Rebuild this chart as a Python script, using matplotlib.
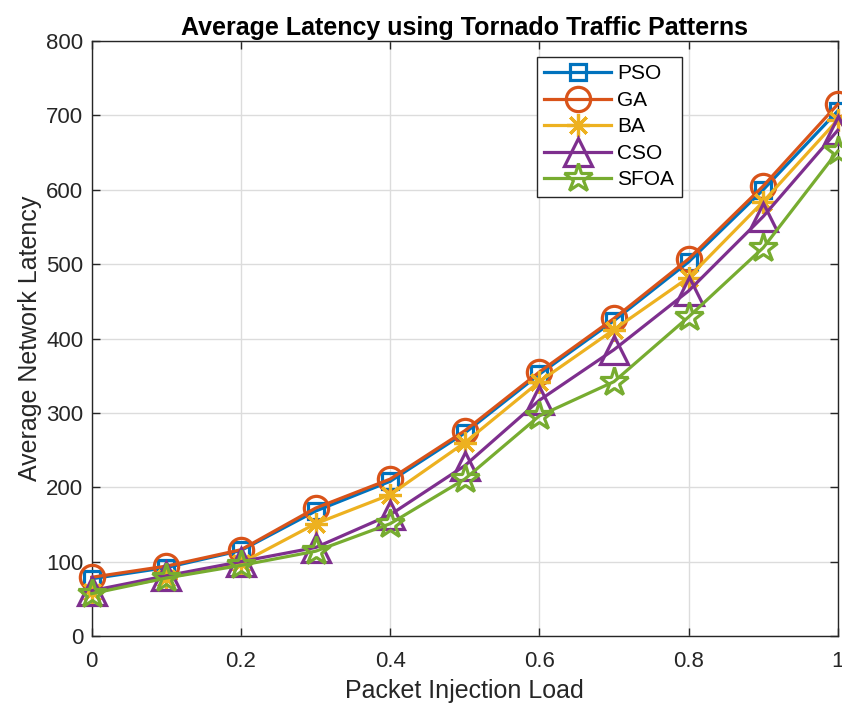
import matplotlib
matplotlib.use("Agg")
import matplotlib.pyplot as plt
from matplotlib import font_manager

load = [0, 0.1, 0.2, 0.3, 0.4, 0.5, 0.6, 0.7, 0.8, 0.9, 1.0]
pso = [77, 92, 115, 168, 208, 273, 352, 424, 503, 600, 706]
ga = [79, 94, 116, 172, 211, 276, 355, 427, 507, 605, 715]
ba = [59, 78, 98, 151, 190, 260, 342, 412, 482, 584, 694]
cso = [61, 81, 100, 119, 163, 229, 317, 385, 464, 564, 680]
sfoa = [57, 78, 95, 114, 151, 211, 296, 342, 429, 522, 652]

series_names = ["PSO", "GA", "BA", "CSO", "SFOA"]
xticks = [0, 0.2, 0.4, 0.6, 0.8, 1.0]
xticklabels = ["0", "0.2", "0.4", "0.6", "0.8", "1"]
yticks = [0, 100, 200, 300, 400, 500, 600, 700, 800]

names = {f.name for f in font_manager.fontManager.ttflist}
base = "Liberation Sans" if "Liberation Sans" in names else "DejaVu Sans"
plt.rcParams["font.family"] = [base, "DejaVu Sans"]

fig = plt.figure(figsize=(8.42, 7.07), dpi=100)
ax = fig.add_axes([0.109, 0.1004, 0.886, 0.8416])

styles = [
    dict(color="#0072BD", marker="s", ms=12),
    dict(color="#D95319", marker="o", ms=17.5),
    dict(color="#EDB120", marker=(8, 2, 0), ms=16.5),
    dict(color="#7E2F8E", marker="^", ms=20),
    dict(color="#77AC30", marker="*", ms=21),
]
for vals, name, st in zip([pso, ga, ba, cso, sfoa], series_names, styles):
    ax.plot(load, vals, color=st["color"], lw=2.3, marker=st["marker"],
            ms=st["ms"], mfc="none", mec=st["color"], mew=2.3,
            label=name, clip_on=False, zorder=3)

ax.set_xlim(0, 1)
ax.set_ylim(0, 800)
ax.set_xticks(xticks)
ax.set_xticklabels(xticklabels)
ax.set_yticks(yticks)
ax.grid(True, color="#dcdcdc", lw=1.0)
ax.set_axisbelow(True)
ax.tick_params(direction="in", top=True, right=True, length=6, width=1,
               labelsize=16, colors="#262626")
ax.tick_params(axis="x", pad=11)
ax.tick_params(axis="y", pad=6)
for sp in ax.spines.values():
    sp.set_color("#262626")
    sp.set_linewidth(1.0)

ax.set_xlabel("Packet Injection Load", fontsize=18, color="#262626", labelpad=5)
ax.set_ylabel("Average Network Latency", fontsize=18, color="#262626", labelpad=3)
ax.set_title("Average Latency using Tornado Traffic Patterns", fontsize=18,
             fontweight="bold", pad=4)

leg = ax.legend(loc="upper left", bbox_to_anchor=(0.597, 0.973), fontsize=15,
                frameon=True, fancybox=False, edgecolor="#262626",
                framealpha=1, handlelength=3.2, borderpad=0.35,
                labelspacing=0.36, handletextpad=0.3, borderaxespad=0)
leg.get_frame().set_linewidth(1.0)

fig.savefig("out.png", dpi=100)
